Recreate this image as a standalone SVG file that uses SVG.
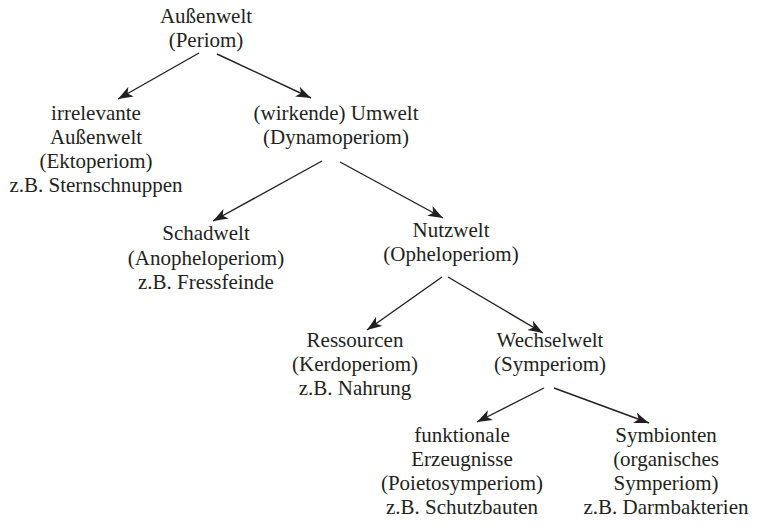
<svg xmlns="http://www.w3.org/2000/svg" width="763" height="528" viewBox="0 0 763 528">
<defs>
<style>
text{font-family:"Liberation Serif","Times New Roman",serif;font-size:21px;fill:#231f20;text-anchor:middle}
.c line{stroke:#231f20;stroke-width:1.4;fill:none;marker-end:url(#ah)}
</style>
<marker id="ah" markerUnits="userSpaceOnUse" markerWidth="16" markerHeight="12" refX="15" refY="6" orient="auto" viewBox="0 0 16 12">
<path d="M0,0.5 L15,6 L0,11.5 L4,6 Z" fill="#231f20"/>
</marker>
</defs>
<rect width="763" height="528" fill="#fff"/>
<g class="c" id="connectors">
<line x1="199" y1="53" x2="118" y2="99"/>
<line x1="217" y1="54" x2="311" y2="98"/>
<line x1="322" y1="161" x2="213" y2="221"/>
<line x1="340" y1="162" x2="443" y2="218"/>
<line x1="442" y1="277" x2="367" y2="330"/>
<line x1="448" y1="277" x2="543" y2="333"/>
<line x1="544" y1="388" x2="477" y2="422"/>
<line x1="554" y1="388" x2="649" y2="423"/>
</g>
<g id="periom"><text x="206" y="23">Außenwelt</text><text x="206" y="47">(Periom)</text></g>
<g id="ektoperiom"><text x="96" y="120">irrelevante</text><text x="96" y="144">Außenwelt</text><text x="96" y="168">(Ektoperiom)</text><text x="96" y="192">z.B. Sternschnuppen</text></g>
<g id="dynamoperiom"><text x="336" y="120">(wirkende) Umwelt</text><text x="336" y="144">(Dynamoperiom)</text></g>
<g id="anopheloperiom"><text x="206" y="240">Schadwelt</text><text x="206" y="265">(Anopheloperiom)</text><text x="206" y="289">z.B. Fressfeinde</text></g>
<g id="opheloperiom"><text x="451" y="237">Nutzwelt</text><text x="451" y="261">(Opheloperiom)</text></g>
<g id="kerdoperiom"><text x="355" y="347">Ressourcen</text><text x="355" y="371">(Kerdoperiom)</text><text x="355" y="395">z.B. Nahrung</text></g>
<g id="symperiom"><text x="550" y="347">Wechselwelt</text><text x="550" y="371">(Symperiom)</text></g>
<g id="poietosymperiom"><text x="462" y="442">funktionale</text><text x="462" y="466">Erzeugnisse</text><text x="462" y="490">(Poietosymperiom)</text><text x="462" y="514">z.B. Schutzbauten</text></g>
<g id="symbionten"><text x="666" y="442">Symbionten</text><text x="666" y="466">(organisches</text><text x="666" y="490">Symperiom)</text><text x="666" y="514">z.B. Darmbakterien</text></g>
</svg>
